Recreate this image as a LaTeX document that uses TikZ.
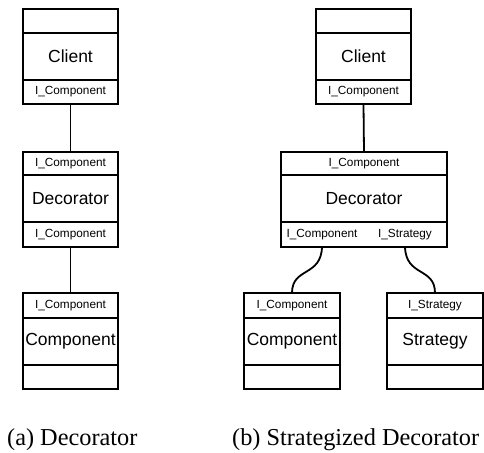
\documentclass[tikz,border=0pt]{standalone}
\usepackage{fontspec}
\setmainfont{Liberation Serif}
\setsansfont{Liberation Sans}
\tikzset{
  comp/.style={draw, line width=1.8pt, inner sep=0pt, outer sep=0pt,
    font=\sffamily\fontsize{17.5}{20}\selectfont},
  port/.style={comp, font=\sffamily\fontsize{11.8}{14}\selectfont},
  plabel/.style={inner sep=0pt, font=\sffamily\fontsize{11.8}{14}\selectfont},
  conn/.style={line width=1.8pt},
  captext/.style={font=\rmfamily\fontsize{24.3}{28}\selectfont, anchor=base west, inner sep=0pt}
}
\begin{document}
\begin{tikzpicture}[x=1pt,y=-1pt]
\useasboundingbox (0,0) rectangle (484,452);

% ---------- (a) ----------
\node[port, minimum width=95pt, minimum height=24pt] (lc-top) at (70.5,21) {};
\node[comp, minimum width=95pt, minimum height=47pt] (lc-name) at (70.5,56.5) {Client};
\node[port, minimum width=95pt, minimum height=24pt] (lc-port) at (70.5,92) {I\_Component};

\node[port, minimum width=95pt, minimum height=23pt] (ld-in) at (70.5,163.5) {I\_Component};
\node[comp, minimum width=95pt, minimum height=47pt] (ld-name) at (70.5,198.5) {Decorator};
\node[port, minimum width=95pt, minimum height=25pt] (ld-out) at (70.5,234.5) {I\_Component};

\node[port, minimum width=95pt, minimum height=25pt] (lk-port) at (70.5,305.5) {I\_Component};
\node[comp, minimum width=95pt, minimum height=47pt] (lk-name) at (70.5,341.5) {Component};
\node[port, minimum width=95pt, minimum height=24pt] (lk-bot) at (70.5,377) {};

\draw[conn] (lc-port.south) -- (ld-in.north);
\draw[conn] (ld-out.south) -- (lk-port.north);

\node[captext] (capa) at (7,445) {(a) Decorator};

% ---------- (b) ----------
\node[port, minimum width=95pt, minimum height=24pt] (rc-top) at (363.5,21) {};
\node[comp, minimum width=95pt, minimum height=47pt] (rc-name) at (363.5,56.5) {Client};
\node[port, minimum width=95pt, minimum height=24pt] (rc-port) at (363.5,92) {I\_Component};

\node[port, minimum width=166pt, minimum height=23pt] (rd-in) at (364,163.5) {I\_Component};
\node[comp, minimum width=166pt, minimum height=47pt] (rd-name) at (364,198.5) {Decorator};
\node[port, minimum width=166pt, minimum height=25pt] (rd-out) at (364,234.5) {};
\node[plabel] (rd-pc) at (322,234.5) {I\_Component};
\node[plabel] (rd-ps) at (405,234.5) {I\_Strategy};

\node[port, minimum width=96pt, minimum height=25pt] (rk-port) at (292,305.5) {I\_Component};
\node[comp, minimum width=96pt, minimum height=47pt] (rk-name) at (292,341.5) {Component};
\node[port, minimum width=96pt, minimum height=24pt] (rk-bot) at (292,377) {};

\node[port, minimum width=96pt, minimum height=25pt] (rs-port) at (435,305.5) {I\_Strategy};
\node[comp, minimum width=96pt, minimum height=47pt] (rs-name) at (435,341.5) {Strategy};
\node[port, minimum width=96pt, minimum height=24pt] (rs-bot) at (435,377) {};

\draw[conn] (rc-port.south) -- (rd-in.north);
\draw[conn] (rd-pc |- rd-out.south) .. controls +(-1,30) and +(0,-26) .. (rk-port.north);
\draw[conn] (rd-ps |- rd-out.south) .. controls +(1,30) and +(0,-26) .. (rs-port.north);

\node[captext] (capb) at (232,445) {(b) Strategized Decorator};
\end{tikzpicture}
\end{document}
